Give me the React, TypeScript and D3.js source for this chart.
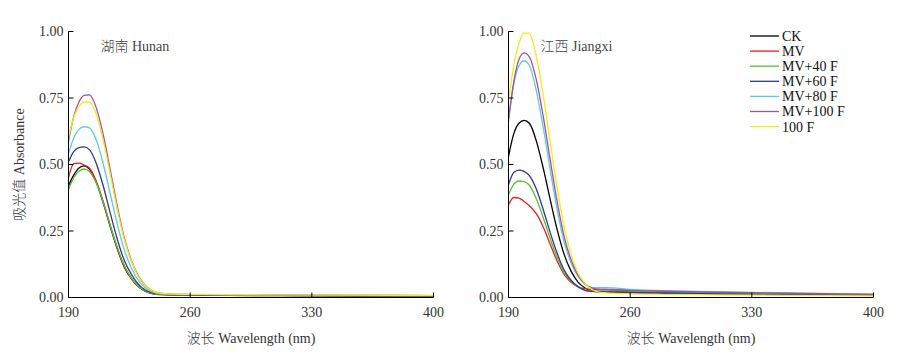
import React from "react";
import * as d3 from "d3";

const wavelengths = [190, 193, 196, 199, 202, 206, 210, 214, 218, 222, 226, 230, 234, 238, 243, 250, 260, 280, 310, 350, 400];
const seriesNames = ["CK", "MV", "MV+40 F", "MV+60 F", "MV+80 F", "MV+100 F", "100 F"];
const seriesColors = ["#000000", "#ee1c25", "#5bbf3a", "#2b3990", "#5ecbdd", "#a2519e", "#f2ea1a"];

const hunanCK = [0.42, 0.46, 0.487, 0.495, 0.483, 0.433, 0.355, 0.267, 0.184, 0.116, 0.072, 0.042, 0.024, 0.015, 0.011, 0.01, 0.009, 0.008, 0.007, 0.006, 0.005];
const hunanMV = [0.45, 0.503, 0.505, 0.498, 0.487, 0.437, 0.36, 0.272, 0.189, 0.12, 0.073, 0.043, 0.025, 0.016, 0.012, 0.011, 0.01, 0.009, 0.008, 0.007, 0.006];
const hunanMV40 = [0.405, 0.45, 0.475, 0.483, 0.474, 0.43, 0.357, 0.271, 0.189, 0.121, 0.075, 0.044, 0.025, 0.016, 0.012, 0.011, 0.01, 0.009, 0.008, 0.007, 0.006];
const hunanMV60 = [0.51, 0.548, 0.563, 0.566, 0.556, 0.504, 0.419, 0.318, 0.221, 0.141, 0.089, 0.051, 0.029, 0.018, 0.013, 0.011, 0.01, 0.009, 0.008, 0.007, 0.006];
const hunanMV80 = [0.54, 0.6, 0.632, 0.642, 0.638, 0.592, 0.502, 0.39, 0.278, 0.181, 0.114, 0.066, 0.038, 0.022, 0.014, 0.012, 0.011, 0.01, 0.009, 0.008, 0.007];
const hunanMV100 = [0.587, 0.68, 0.735, 0.76, 0.762, 0.713, 0.611, 0.48, 0.345, 0.227, 0.143, 0.083, 0.046, 0.026, 0.016, 0.012, 0.011, 0.01, 0.009, 0.008, 0.007];
const hunan100F = [0.6, 0.677, 0.718, 0.735, 0.735, 0.688, 0.59, 0.464, 0.333, 0.22, 0.139, 0.081, 0.045, 0.026, 0.016, 0.013, 0.012, 0.011, 0.01, 0.009, 0.008];

const jiangxiCK = [0.53, 0.615, 0.655, 0.666, 0.655, 0.589, 0.486, 0.368, 0.255, 0.162, 0.099, 0.058, 0.036, 0.024, 0.021, 0.02, 0.018, 0.016, 0.013, 0.011, 0.008];
const jiangxiMV = [0.348, 0.376, 0.374, 0.361, 0.345, 0.315, 0.265, 0.2, 0.137, 0.087, 0.057, 0.04, 0.033, 0.03, 0.029, 0.028, 0.026, 0.023, 0.019, 0.015, 0.011];
const jiangxiMV40 = [0.386, 0.425, 0.438, 0.436, 0.422, 0.371, 0.3, 0.221, 0.15, 0.093, 0.061, 0.039, 0.028, 0.025, 0.024, 0.024, 0.022, 0.019, 0.016, 0.013, 0.01];
const jiangxiMV60 = [0.424, 0.47, 0.479, 0.474, 0.458, 0.408, 0.33, 0.244, 0.166, 0.103, 0.065, 0.041, 0.027, 0.023, 0.022, 0.021, 0.019, 0.017, 0.014, 0.011, 0.009];
const jiangxiMV80 = [0.66, 0.8, 0.87, 0.89, 0.872, 0.778, 0.639, 0.48, 0.33, 0.208, 0.13, 0.079, 0.05, 0.038, 0.037, 0.036, 0.03, 0.026, 0.022, 0.017, 0.013];
const jiangxiMV100 = [0.67, 0.81, 0.895, 0.92, 0.905, 0.819, 0.68, 0.517, 0.36, 0.229, 0.142, 0.084, 0.051, 0.035, 0.031, 0.03, 0.027, 0.024, 0.02, 0.016, 0.012];
const jiangxi100F = [0.74, 0.87, 0.955, 0.995, 0.993, 0.906, 0.76, 0.584, 0.411, 0.265, 0.161, 0.092, 0.052, 0.03, 0.019, 0.016, 0.014, 0.012, 0.01, 0.008, 0.006];

const xTicks = [190, 260, 330, 400];
const yTicks = [0, 0.25, 0.5, 0.75, 1.0];

const hunanSeries = [hunanCK, hunanMV, hunanMV40, hunanMV60, hunanMV80, hunanMV100, hunan100F];
const jiangxiSeries = [jiangxiCK, jiangxiMV, jiangxiMV40, jiangxiMV60, jiangxiMV80, jiangxiMV100, jiangxi100F];

const FONT = "'Liberation Serif', 'Times New Roman', serif";
const CJK = "'Noto Sans CJK SC', sans-serif";

function Mixed({ zh, en }: { zh: string; en: string }) {
  return (
    <>
      <tspan fontFamily={CJK} fontWeight={300}>{zh}</tspan>
      <tspan fontFamily={FONT}>{" " + en}</tspan>
    </>
  );
}

type PanelProps = { x0: number; titleZh: string; titleEn: string; series: number[][]; showYLabel: boolean };

function Panel({ x0, titleZh, titleEn, series, showYLabel }: PanelProps) {
  const top = 31.5;
  const bottom = 297.5;
  const width = 365;
  const x = d3.scaleLinear().domain([190, 400]).range([x0, x0 + width]);
  const y = d3.scaleLinear().domain([0, 1]).range([bottom, top]);
  const line = d3
    .line<number>()
    .x((_, i) => x(wavelengths[i]))
    .y((d) => y(d))
    .curve(d3.curveMonotoneX);
  const cx = x0 + width / 2;
  return (
    <g>
      {series.map((vals, i) => (
        <path key={i} d={line(vals) || ""} fill="none" stroke={seriesColors[i]} strokeWidth={1.3} />
      ))}
      <line x1={x0} x2={x0} y1={top} y2={bottom} stroke="#000" strokeWidth={1} />
      <line x1={x0} x2={x0 + width} y1={bottom} y2={bottom} stroke="#000" strokeWidth={1} />
      {yTicks.map((t) => (
        <g key={"y" + t}>
          <line x1={x0} x2={x0 + 5} y1={y(t)} y2={y(t)} stroke="#000" strokeWidth={1} />
          <text x={x0 - 5} y={y(t)} dy="0.35em" textAnchor="end" fontFamily={FONT} fontSize={14} fill="#333">
            {d3.format(".2f")(t)}
          </text>
        </g>
      ))}
      {xTicks.map((t) => (
        <g key={"x" + t}>
          <line x1={x(t)} x2={x(t)} y1={bottom} y2={bottom - 5} stroke="#000" strokeWidth={1} />
          <text x={x(t)} y={317} textAnchor="middle" fontFamily={FONT} fontSize={14} fill="#333">
            {t}
          </text>
        </g>
      ))}
      <text x={cx} y={343} textAnchor="middle" fontSize={14} fill="#333">
        <Mixed zh="波长" en="Wavelength (nm)" />
      </text>
      <text x={x0 + 32} y={51} fontSize={14} fill="#444">
        <Mixed zh={titleZh} en={titleEn} />
      </text>
      {showYLabel && (
        <text
          transform={`translate(24,${(top + bottom) / 2}) rotate(-90)`}
          textAnchor="middle"
          fontSize={14}
          fill="#333"
        >
          <Mixed zh="吸光值" en="Absorbance" />
        </text>
      )}
    </g>
  );
}

export default function App() {
  return (
    <svg width={899} height={356} style={{ position: "absolute", left: 0, top: 0, background: "#fff" }}>
      <rect x={0} y={0} width={899} height={356} fill="#fff" />
      <Panel x0={68.5} titleZh="湖南" titleEn="Hunan" series={hunanSeries} showYLabel={true} />
      <Panel x0={508.5} titleZh="江西" titleEn="Jiangxi" series={jiangxiSeries} showYLabel={false} />
      <g>
        {seriesNames.map((name, i) => (
          <g key={name}>
            <line x1={750} x2={779} y1={36 + i * 15.1} y2={36 + i * 15.1} stroke={seriesColors[i]} strokeWidth={1.3} />
            <text x={782} y={36 + i * 15.1} dy="0.35em" fontFamily={FONT} fontSize={14} fill="#111">
              {name}
            </text>
          </g>
        ))}
      </g>
    </svg>
  );
}
